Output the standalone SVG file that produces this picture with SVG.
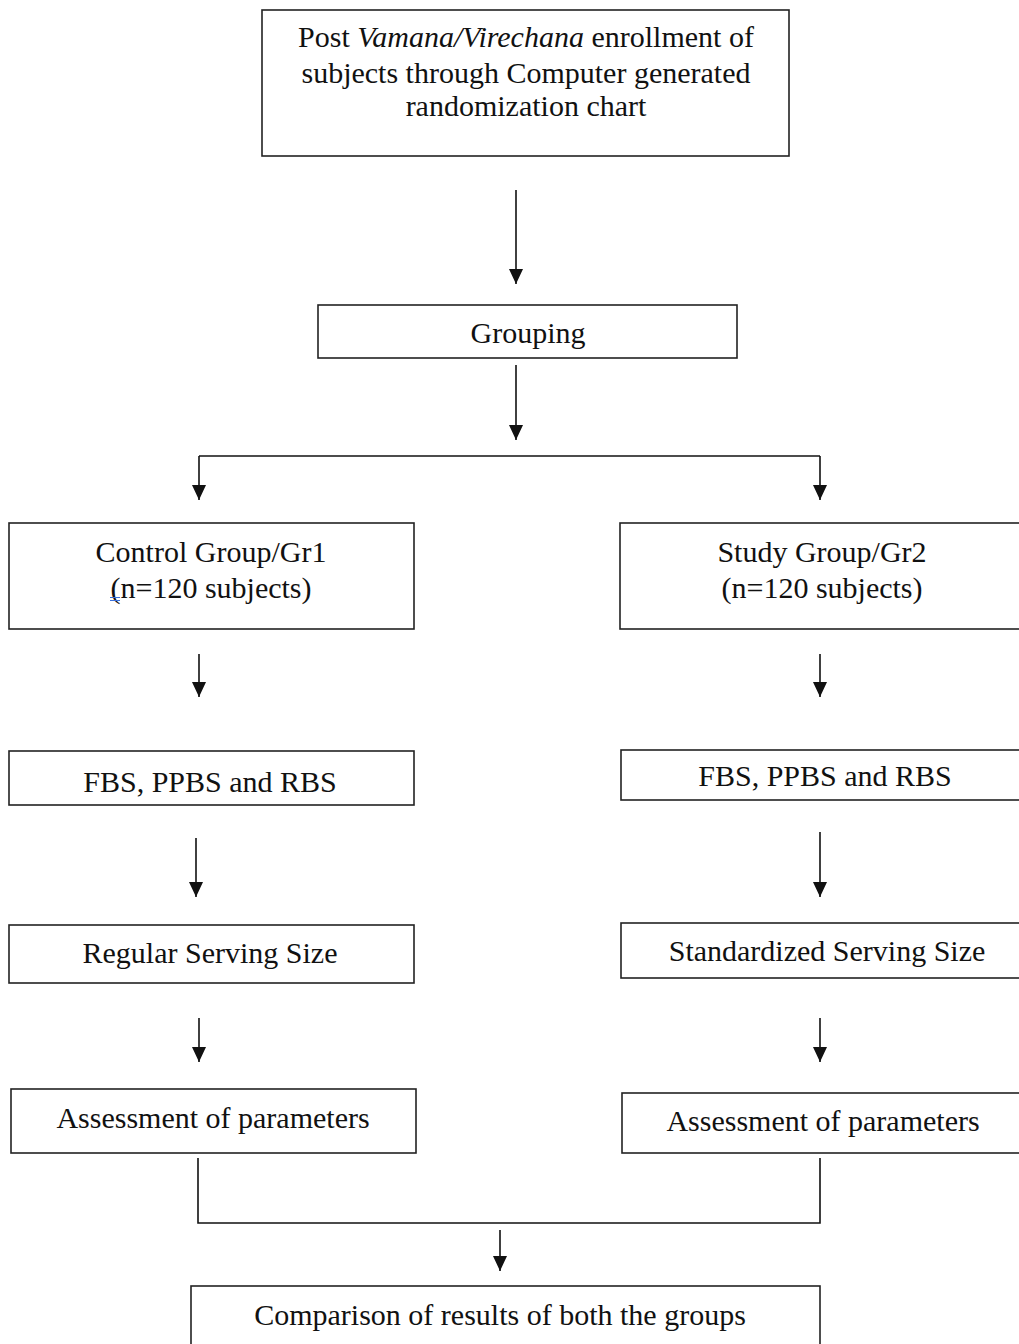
<svg xmlns="http://www.w3.org/2000/svg" width="1019" height="1344" viewBox="0 0 1019 1344">
<style>
.box{fill:#fff;stroke:#222;stroke-width:1.6}
.t{font-family:"Liberation Serif","Times New Roman",serif;font-size:30px;fill:#111;text-anchor:middle}
.ln{fill:none;stroke:#111;stroke-width:1.6}
</style>
<defs>
<marker id="ah" markerUnits="userSpaceOnUse" markerWidth="16" markerHeight="14" refX="15" refY="7" orient="auto">
<path d="M0,0 L15,7 L0,14 z" fill="#111"/>
</marker>
</defs>
<rect width="1019" height="1344" fill="#fff"/>
<g id="connectors">
<line class="ln" x1="516" y1="190" x2="516" y2="284" marker-end="url(#ah)"/>
<line class="ln" x1="516" y1="365" x2="516" y2="440" marker-end="url(#ah)"/>
<path class="ln" d="M199,456 H820"/>
<line class="ln" x1="199" y1="456" x2="199" y2="500" marker-end="url(#ah)"/>
<line class="ln" x1="820" y1="456" x2="820" y2="500" marker-end="url(#ah)"/>
<line class="ln" x1="199" y1="654" x2="199" y2="697" marker-end="url(#ah)"/>
<line class="ln" x1="820" y1="654" x2="820" y2="697" marker-end="url(#ah)"/>
<line class="ln" x1="196" y1="838" x2="196" y2="897" marker-end="url(#ah)"/>
<line class="ln" x1="820" y1="832" x2="820" y2="897" marker-end="url(#ah)"/>
<line class="ln" x1="199" y1="1018" x2="199" y2="1062" marker-end="url(#ah)"/>
<line class="ln" x1="820" y1="1018" x2="820" y2="1062" marker-end="url(#ah)"/>
<path class="ln" d="M198,1158 V1223 H820 V1158"/>
<line class="ln" x1="500" y1="1230" x2="500" y2="1271" marker-end="url(#ah)"/>
</g>
<g id="node-enrollment">
<rect class="box" x="262" y="10" width="527" height="146"/>
<text class="t" x="526" y="47">Post <tspan font-style="italic">Vamana/Virechana</tspan> enrollment of</text>
<text class="t" x="526" y="83">subjects through Computer generated</text>
<text class="t" x="526" y="116">randomization chart</text>
</g>
<g id="node-grouping">
<rect class="box" x="318" y="305" width="419" height="53"/>
<text class="t" x="528" y="343">Grouping</text>
</g>
<g id="node-control">
<rect class="box" x="9" y="523" width="405" height="106"/>
<text class="t" x="211" y="562">Control Group/Gr1</text>
<text class="t" x="211" y="598">(n=120 subjects)</text>
<path d="M110,597.5 H120 M110,600.5 H120" stroke="#3b6fd9" stroke-width="1.2" fill="none"/>
</g>
<g id="node-study">
<rect class="box" x="620" y="523" width="406" height="106"/>
<text class="t" x="822" y="562">Study Group/Gr2</text>
<text class="t" x="822" y="598">(n=120 subjects)</text>
</g>
<g id="node-fbs-1">
<rect class="box" x="9" y="751" width="405" height="54"/>
<text class="t" x="210" y="792">FBS, PPBS and RBS</text>
</g>
<g id="node-fbs-2">
<rect class="box" x="621" y="750" width="405" height="50"/>
<text class="t" x="825" y="786">FBS, PPBS and RBS</text>
</g>
<g id="node-regular">
<rect class="box" x="9" y="925" width="405" height="58"/>
<text class="t" x="210" y="963">Regular Serving Size</text>
</g>
<g id="node-standardized">
<rect class="box" x="621" y="923" width="405" height="55"/>
<text class="t" x="827" y="961">Standardized Serving Size</text>
</g>
<g id="node-assessment-1">
<rect class="box" x="11" y="1089" width="405" height="64"/>
<text class="t" x="213" y="1128">Assessment of parameters</text>
</g>
<g id="node-assessment-2">
<rect class="box" x="622" y="1093" width="404" height="60"/>
<text class="t" x="823" y="1131">Assessment of parameters</text>
</g>
<g id="node-comparison">
<rect class="box" x="191" y="1286" width="629" height="70"/>
<text class="t" x="500" y="1325">Comparison of results of both the groups</text>
</g>
</svg>
